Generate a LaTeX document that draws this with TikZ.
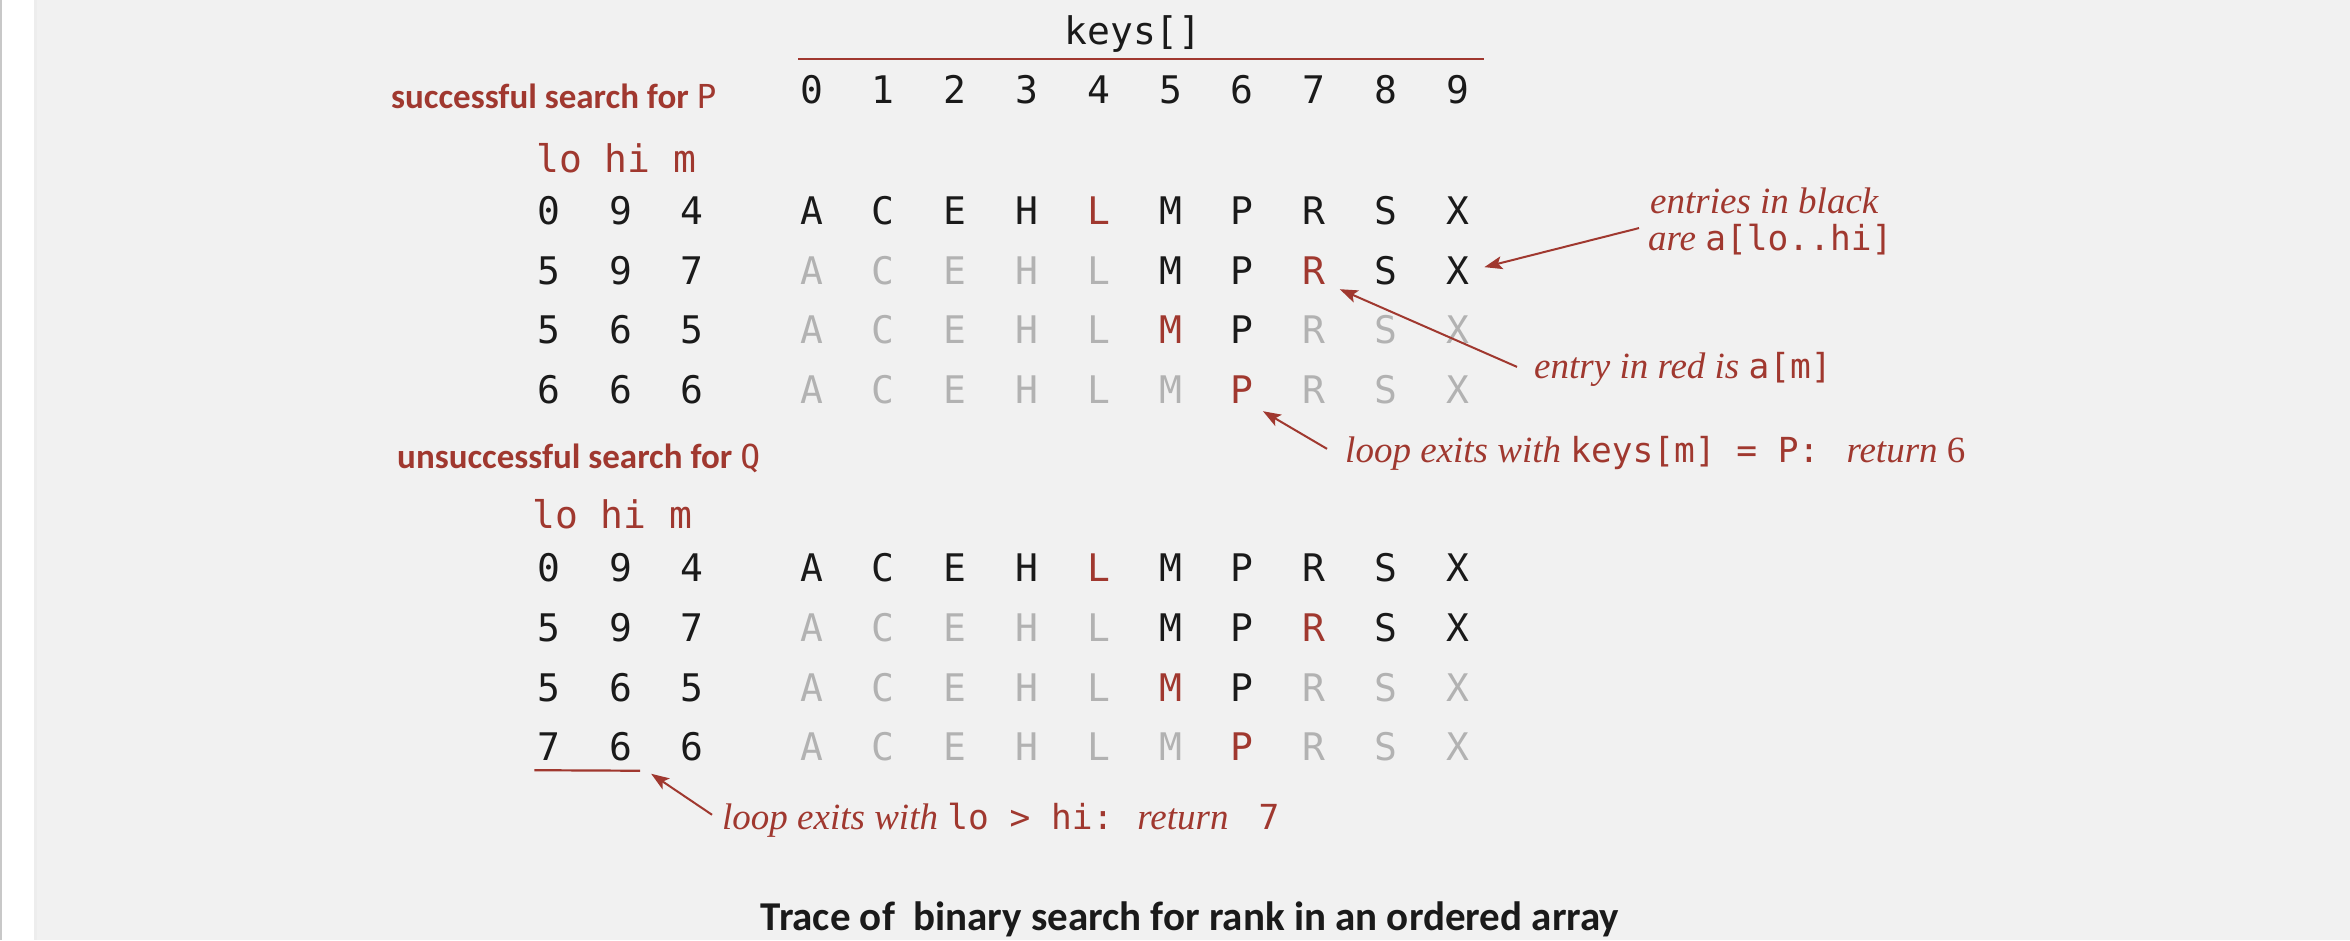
\documentclass[tikz,border=0pt]{standalone}
\usepackage{fontspec}
\setmainfont{Liberation Serif}
\newfontfamily\mono{DejaVu Sans Mono}
\newfontfamily\labfont{Carlito}
\usetikzlibrary{arrows.meta}
\definecolor{bg}{HTML}{F1F1F1}
\definecolor{ink}{HTML}{1A1A1A}
\definecolor{rust}{HTML}{A0382F}
\definecolor{faded}{HTML}{B2B2B2}
\definecolor{edge}{HTML}{C8C8C8}
\tikzset{
  cell/.style={inner sep=0pt, anchor=base, font=\mono\fontsize{38}{40}\selectfont},
  head/.style={inner sep=0pt, anchor=base west, text=rust, font=\mono\fontsize{38}{40}\selectfont},
  lab/.style={inner sep=0pt, anchor=base west, text=rust, font=\labfont\bfseries\fontsize{35}{38}\selectfont},
  ann/.style={inner sep=0pt, anchor=base west, text=rust, font=\itshape\fontsize{37}{40}\selectfont},
  ptr/.style={draw=rust, line width=2pt, -{Stealth[length=18pt,width=13pt,inset=4pt]}},
  rule/.style={draw=rust, line width=2.2pt},
}
\newcommand\cd[1]{{\mono\upshape\fontsize{34.5}{40}\selectfont #1}}
\begin{document}
\begin{tikzpicture}[x=1pt,y=-1pt]
% page and panel
\fill[white] (0,0) rectangle (2350,940);
\fill[edge] (0,0) rectangle (1.5,940);
\fill[black!7] (34,0) rectangle (37,940);
\fill[bg] (37,0) rectangle (2350,940);
\useasboundingbox (0,0) rectangle (2350,940);

% array title and indices
\node[cell, text=ink] (keys) at (1133,44) {keys[]};
\draw[rule] (798,59) -- (1484,59);
\foreach \i in {0,...,9}
  \node[cell, text=ink] (idx\i) at ({811.5+71.8*\i},103) {\i};

% section labels
\node[lab] (succ) at (391,108) {successful search for {\mono\mdseries\fontsize{33}{36}\selectfont P}};
\node[lab] (unsucc) at (397,468) {unsuccessful search for {\mono\mdseries\fontsize{33}{36}\selectfont Q}};

% column heads
\node[head] (heads) at (536,172) {lo hi m};
\node[head] (headu) at (532,528) {lo hi m};

% trace rows: lo, hi, m and the array
\foreach \grp/\rw/\lw/\hg/\md/\yy in {s/1/0/9/4/224, s/2/5/9/7/284, s/3/5/6/5/343.5, s/4/6/6/6/403,
                                   u/1/0/9/4/581, u/2/5/9/7/641, u/3/5/6/5/701, u/4/7/6/6/760} {
  \node[cell, text=ink] (\grp\rw-lo) at (549,\yy) {\lw};
  \node[cell, text=ink] (\grp\rw-hi) at (620.5,\yy) {\hg};
  \node[cell, text=ink] (\grp\rw-m) at (692,\yy) {\md};
  \foreach \ch [count=\i from 0] in {A,C,E,H,L,M,P,R,S,X} {
    \ifnum\i=\md\relax \def\tone{rust}\else
      \ifnum\i<\lw\relax \def\tone{faded}\else
        \ifnum\i>\hg\relax \def\tone{faded}\else \def\tone{ink}\fi\fi\fi
    \node[cell, text=\tone] (\grp\rw-c\i) at ({811.5+71.8*\i},\yy) {\ch};
  }
}

% annotations
\node[ann] (blackA) at (1650,213) {entries in black};
\node[ann] (blackB) at (1648,250) {are \cd{a[lo..hi]}};
\node[ann] (redm) at (1534,378) {entry in red is \cd{a[m]}};
\node[ann] (hit) at (1345,462) {loop exits with \cd{keys[m] = P:}\hspace{27pt}return {\upshape 6}};
\node[ann] (miss) at (722,829) {loop exits with \cd{lo > hi:}\hspace{24pt}return\hspace{30pt}\cd{7}};

% pointers
\draw[ptr] ([shift={(-9,-11)}]blackB.west) -- ([shift={(15,-3)}]s2-c9.east);
\draw[ptr] ([shift={(-17,-2)}]redm.west) -- ([shift={(14,5)}]s2-c7.south east);
\draw[ptr] ([shift={(-18,-4)}]hit.west) -- ([shift={(9,8)}]s4-c6.south east);
\draw[rule] ([shift={(-3,10)}]u4-lo.south west) -- ([shift={(8,10)}]u4-hi.south east);
\draw[ptr] ([shift={(-10,-5)}]miss.west) -- ([shift={(19,13)}]u4-hi.south east);

% caption
\node[inner sep=0pt, anchor=base, text=ink, font=\labfont\bfseries\fontsize{41}{44}\selectfont] (cap)
  at (1190,930) {Trace of\ \ binary search for rank in an ordered array};
\end{tikzpicture}
\end{document}
